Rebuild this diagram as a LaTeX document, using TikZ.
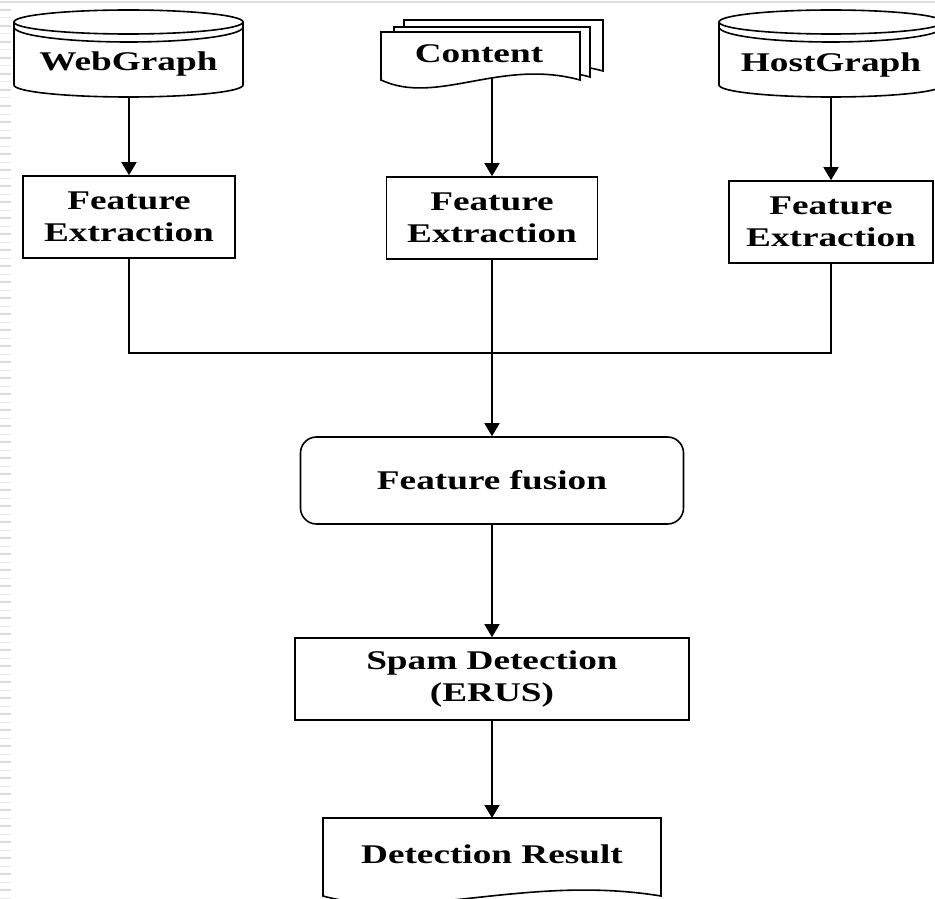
\documentclass[tikz,border=0pt]{standalone}
\usepackage{fontspec}
\setmainfont{Liberation Serif}[FakeStretch=1.38]
\usetikzlibrary{arrows.meta}
\newcommand\dbcyl[2]{%
  \pgfmathsetmacro\cxx{(#1+#2)/2}%
  \pgfmathsetmacro\rxx{(#2-#1)/2}%
  \draw[fill=white] (#1,22) -- (#1,85) arc[start angle=180,end angle=0,x radius=\rxx,y radius=12] -- (#2,22);
  \draw (\cxx,22) ellipse[x radius=\rxx,y radius=12];
  \draw (#1,27) arc[start angle=180,end angle=0,x radius=\rxx,y radius=15];
}
\newcommand\docsheet[4]{%
  \pgfmathsetmacro\ww{#3-#1}%
  \draw[fill=white,line join=miter] (#1,#4) -- (#1,#2) -- (#3,#2) -- (#3,#4)
     .. controls ({#3-0.4*\ww},{#4-22}) and ({#3-0.72*\ww},{#4+26}) .. (#1,#4) -- cycle;
}
\begin{document}
\begin{tikzpicture}[x=1pt,y=-1pt,line width=1.6pt,
  lbl/.style={font=\fontsize{27}{32}\selectfont\bfseries,align=center,inner sep=0pt},
  box/.style={draw,fill=white,line width=1.6pt},
  frame/.style={inner sep=0pt,outer sep=0pt},
  arr/.style={-{Triangle[width=15pt,length=13pt]}}]
\useasboundingbox (0,0) rectangle (935,899);
\fill[white] (0,0) rectangle (935,899);
% screen artefacts
\draw[black!12,line width=1.2pt] (0,2) -- (935,2);
\foreach \yy in {10,26,...,899} \draw[black!14,line width=1.4pt] (0,\yy) -- (11,\yy);
\foreach \yy in {18,34,...,899} \draw[black!9,line width=1pt] (0,\yy) -- (11,\yy);

% sources
\dbcyl{14}{243}
\node[frame,minimum width=229pt,minimum height=87pt] (web) at (128.5,53.5) {};
\node[lbl] (webt) at (128.5,64) {WebGraph};

\docsheet{404}{20}{603}{71}
\docsheet{394}{27}{590}{77}
\docsheet{381}{32}{580}{80}
\node[frame,minimum width=199pt,minimum height=48pt] (cont) at (480.5,56) {};
\node[lbl] (contt) at (479,54) {Content};
\coordinate (cbot) at (492,77);

\dbcyl{719}{943}
\node[frame,minimum width=224pt,minimum height=87pt] (host) at (831,53.5) {};
\node[lbl] (hostt) at (831,65) {HostGraph};

% feature extraction
\node[box,lbl,minimum width=212pt,minimum height=82pt] (fe1) at (129,217) {Feature\\Extraction};
\node[box,lbl,minimum width=211pt,minimum height=82pt] (fe2) at (492,218) {Feature\\Extraction};
\node[box,lbl,minimum width=204pt,minimum height=82pt] (fe3) at (831,222) {Feature\\Extraction};

\draw[arr] (fe1.north |- web.south) -- (fe1.north);
\draw[arr] (cbot) -- (fe2.north);
\draw[arr] (host.south) -- (fe3.north);

% fusion
\node[box,lbl,rounded corners=16pt,minimum width=383pt,minimum height=87pt] (fus) at (492,480.5) {Feature fusion};
\coordinate (jn) at (492,353);
\draw (fe1.south) -- (fe1.south |- jn) -- (fe3.south |- jn) -- (fe3.south);
\draw[arr] (fe2.south) -- (fus.north);

% detection
\node[box,lbl,minimum width=394pt,minimum height=82pt] (spam) at (492,679) {Spam Detection\\(ERUS)};
\draw[arr] (fus.south) -- (spam.north);

\docsheet{323}{818}{661}{896}
\node[frame,minimum width=338pt,minimum height=78pt] (res) at (492,857) {};
\node[lbl] (rest) at (492,854) {Detection Result};
\draw[arr] (spam.south) -- (res.north);
\end{tikzpicture}
\end{document}
